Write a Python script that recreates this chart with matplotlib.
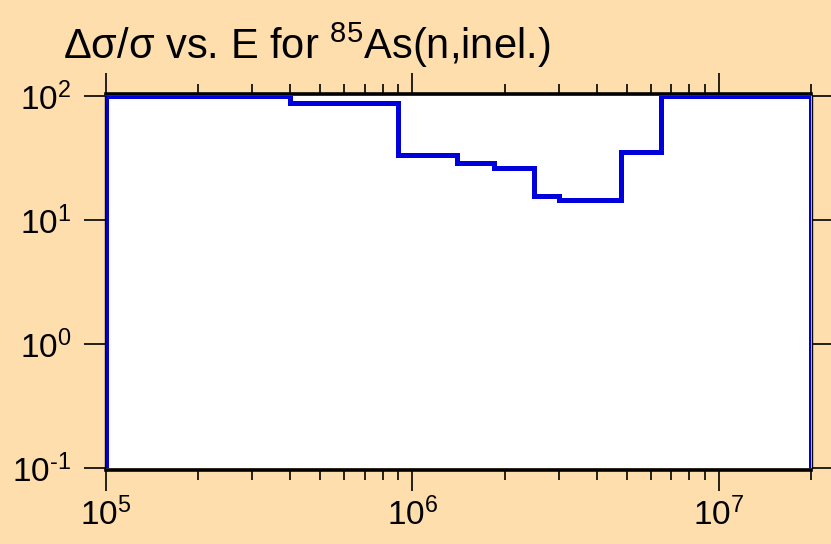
import matplotlib
matplotlib.use("Agg")
import numpy as np
import matplotlib.pyplot as plt
from matplotlib.ticker import LogLocator, NullLocator, NullFormatter, FuncFormatter

# ----------------------------------------------------------------------------------------------------------------------
# Relative uncertainty (%) per energy group

energy_edges = [1e5, 4e5, 9e5, 1.4e6, 1.85e6, 2.5e6, 3e6, 4.8e6, 6.5e6, 2e7]
rel_unc = [100, 88, 33.7, 29, 26.4, 15.5, 14.4, 35.3, 100]

x_range = [1e5, 2e7]
y_range = [0.1, 100]
title_text = r"Δσ/σ vs. E for $^{85}$As(n,inel.)"

# ----------------------------------------------------------------------------------------------------------------------


def pow10_label(val, pos):
    """Label like 10^-1 with a plain hyphen, as in the reference"""
    exp = int(round(np.log10(val)))
    return r"$\mathregular{10^{\text{%d}}}$" % exp


plt.rcParams["font.family"] = ["Liberation Sans", "DejaVu Sans"]
plt.rcParams["mathtext.fontset"] = "custom"
plt.rcParams["mathtext.rm"] = "Liberation Sans"
plt.rcParams["mathtext.it"] = "Liberation Sans"
plt.rcParams["axes.unicode_minus"] = False

bg_color = "#ffdead"
line_color = "#0000dd"

fig = plt.figure(figsize=(8.31, 5.44), dpi=100, facecolor=bg_color)
ax = fig.add_axes([106 / 831, 1 - 468 / 544, 705 / 831, 372 / 544])
ax.set_facecolor("white")

# Build closed step outline from the group edges | drop to baseline at both ends
baseline = 1e-3
step_x = [energy_edges[0]]
step_y = [baseline]
for i, val in enumerate(rel_unc):
    step_x += [energy_edges[i], energy_edges[i + 1]]
    step_y += [val, val]
step_x.append(energy_edges[-1])
step_y.append(baseline)
ax.plot(step_x, step_y, color=line_color, linewidth=3.6, zorder=2.5, solid_joinstyle="miter")

ax.set_xscale("log")
ax.set_yscale("log")
ax.set_xlim(x_range)
ax.set_ylim(y_range)

# Spines: thick top/bottom, thin sides, all pushed slightly outward
for side in ["top", "bottom"]:
    ax.spines[side].set_linewidth(2.6)
    ax.spines[side].set_position(("outward", 1.2))
for side in ["left", "right"]:
    ax.spines[side].set_linewidth(1.0)
    ax.spines[side].set_position(("outward", 0.8))
for sp in ax.spines.values():
    sp.set_zorder(3)

ax.xaxis.set_major_locator(LogLocator(base=10, numticks=10))
ax.xaxis.set_minor_locator(LogLocator(base=10, subs=range(2, 10), numticks=20))
ax.xaxis.set_minor_formatter(NullFormatter())
ax.xaxis.set_major_formatter(FuncFormatter(pow10_label))
ax.yaxis.set_major_locator(LogLocator(base=10, numticks=10))
ax.yaxis.set_minor_locator(NullLocator())
ax.yaxis.set_major_formatter(FuncFormatter(pow10_label))

ax.tick_params(axis="both", which="major", direction="out", length=15, width=1.2,
               labelsize=24, top=True, right=True)
ax.tick_params(axis="both", which="minor", direction="out", length=7.5, width=1.2,
               top=True, right=True)
ax.tick_params(axis="x", which="major", pad=5)
ax.tick_params(axis="y", which="major", pad=9)

fig.text(63 / 831, 1 - 59 / 544, title_text, fontsize=30, va="baseline", ha="left")

fig.savefig("out.png", dpi=100, facecolor=bg_color)
